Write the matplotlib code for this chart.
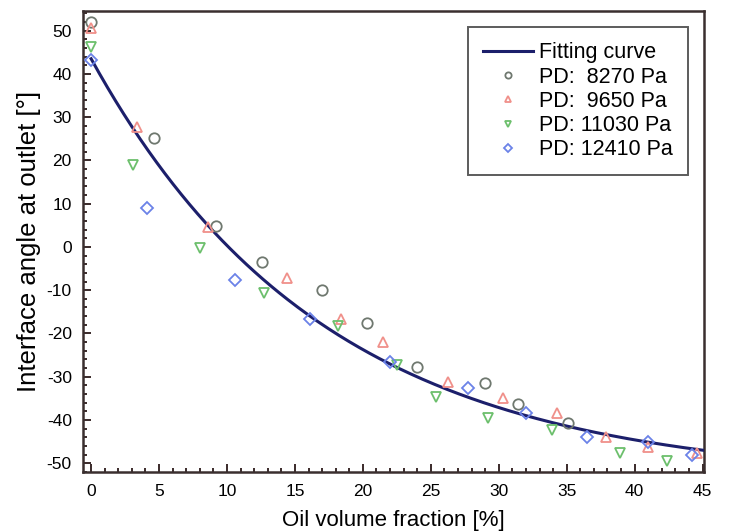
import numpy as np
import matplotlib
matplotlib.use("Agg")
import matplotlib.pyplot as plt
from matplotlib.ticker import MultipleLocator

plt.rcParams['font.family'] = ['Liberation Sans', 'DejaVu Sans']
plt.rcParams['axes.unicode_minus'] = False

# PD 8270 Pa (circles)
x_8270 = [0.0, 4.6, 9.2, 12.6, 17.0, 20.3, 24.0, 29.0, 31.4, 35.1]
y_8270 = [52.0, 25.2, 4.8, -3.5, -9.9, -17.5, -27.7, -31.4, -36.3, -40.6]
# PD 9650 Pa (up triangles)
x_9650 = [0.0, 3.4, 8.6, 14.4, 18.4, 21.5, 26.3, 30.3, 34.3, 37.9, 41.0, 44.6]
y_9650 = [50.5, 27.7, 4.6, -7.2, -16.7, -21.9, -31.2, -34.9, -38.4, -43.9, -46.2, -47.6]
# PD 11030 Pa (down triangles)
x_11030 = [0.0, 3.1, 8.0, 12.7, 18.2, 22.5, 25.4, 29.2, 33.9, 38.9, 42.4]
y_11030 = [46.2, 18.9, -0.2, -10.7, -18.2, -27.3, -34.6, -39.6, -42.3, -47.6, -49.4]
# PD 12410 Pa (diamonds)
x_12410 = [0.0, 4.1, 10.6, 16.1, 22.0, 27.7, 32.0, 36.5, 41.0, 44.2]
y_12410 = [43.2, 9.0, -7.6, -16.6, -26.6, -32.6, -38.4, -43.9, -45.0, -48.0]

# Exponential-decay fitting curve parameters: y = y0 + A*exp(-x/t)
fit_y0, fit_A, fit_t = -54.0, 97.5, 17.1
fit_x_range = (0.0, 45.0)

fig = plt.figure(figsize=(7.31, 5.32), dpi=100)
ax = fig.add_axes([0.1135, 0.113, 0.8495, 0.866])

xf = np.linspace(fit_x_range[0], fit_x_range[1], 300)
yf = fit_y0 + fit_A * np.exp(-xf / fit_t)
ax.plot(xf, yf, color='#1c1f6b', lw=2.2, label='Fitting curve', zorder=3)

ms = 7.5
mew = 1.3
ax.plot(x_8270, y_8270, 'o', ms=ms, mfc='none', mec='#6f786f', mew=mew,
        label='PD:  8270 Pa', zorder=4)
ax.plot(x_9650, y_9650, '^', ms=ms, mfc='none', mec='#f0908a', mew=mew,
        label='PD:  9650 Pa', zorder=4)
ax.plot(x_11030, y_11030, 'v', ms=ms, mfc='none', mec='#6cbf6c', mew=mew,
        label='PD: 11030 Pa', zorder=4)
ax.plot(x_12410, y_12410, 'D', ms=6.5, mfc='none', mec='#6b82e8', mew=mew,
        label='PD: 12410 Pa', zorder=4)

ax.set_xlim(-0.6, 45.1)
ax.set_ylim(-52.0, 54.5)
ax.xaxis.set_major_locator(MultipleLocator(5))
ax.xaxis.set_minor_locator(MultipleLocator(1))
ax.yaxis.set_major_locator(MultipleLocator(10))
ax.yaxis.set_minor_locator(MultipleLocator(2))
ax.tick_params(which='both', direction='in', top=False, right=False,
               labelsize=12.5, color='#3a2a2a', width=1.4)
ax.tick_params(which='major', length=6)
ax.tick_params(which='minor', length=3)
ax.tick_params(axis='x', pad=9)
ax.tick_params(axis='y', pad=8)

for sp in ax.spines.values():
    sp.set_linewidth(1.8)
    sp.set_color('#3a2f2f')

ax.set_xlabel('Oil volume fraction [%]', fontsize=16, labelpad=8)
ax.set_ylabel('Interface angle at outlet [°]', fontsize=18.5, labelpad=4)

leg = ax.legend(loc='upper right', fontsize=15.5, frameon=True, fancybox=False,
                edgecolor='#333333', handlelength=2.3, handletextpad=0.3,
                borderaxespad=0.75, labelspacing=0.15, borderpad=0.7,
                markerscale=0.6)
leg.get_frame().set_linewidth(1.4)

fig.savefig('out.png', dpi=100)
